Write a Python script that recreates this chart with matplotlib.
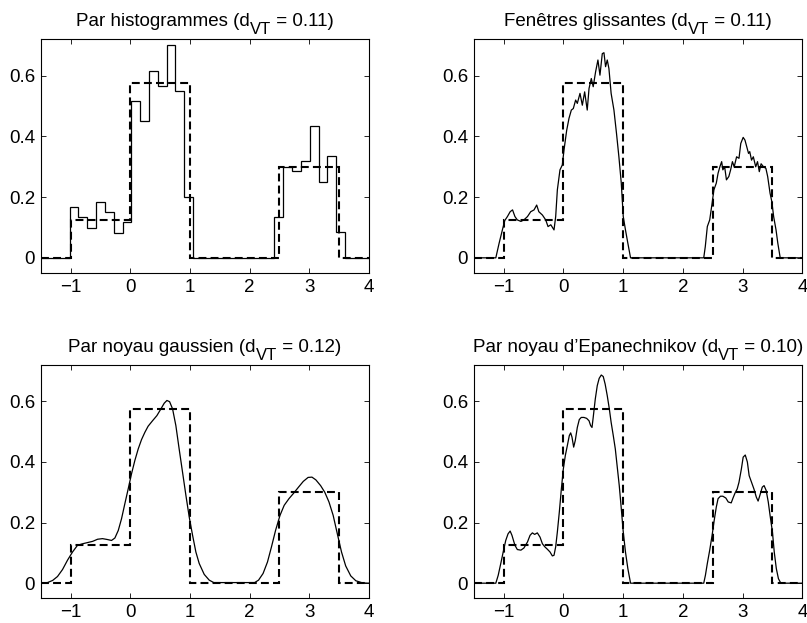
import numpy as np
import matplotlib
matplotlib.use("Agg")
import matplotlib.pyplot as plt

plt.rcParams['font.family'] = ['Liberation Sans', 'DejaVu Sans']

# =============================================================================
# Data

# true density (piecewise constant)
true_edges = [-1.5, -1.0, 0.0, 1.0, 2.5, 3.5, 4.0]
true_vals = [0.0, 0.125, 0.575, 0.0, 0.3, 0.0]

# histogram estimate
hist_edges_a = [-1.017, -0.872, -0.723, -0.573, -0.423, -0.273, -0.129, 0.015,
                0.165, 0.314, 0.464, 0.614, 0.758, 0.908, 1.058]
hist_vals_a = [0.166, 0.134, 0.099, 0.183, 0.150, 0.082, 0.117,
               0.516, 0.450, 0.617, 0.566, 0.702, 0.551, 0.200]
hist_edges_b = [2.411, 2.555, 2.705, 2.855, 3.004, 3.160, 3.304, 3.454, 3.603]
hist_vals_b = [0.135, 0.300, 0.285, 0.320, 0.435, 0.250, 0.335, 0.085]

# sliding windows
win_x = [-1.5, -1.13, -1.075, -1.02, -0.98, -0.936, -0.89, -0.85, -0.81, -0.77,
         -0.71, -0.66, -0.60, -0.546, -0.49, -0.446, -0.41, -0.35, -0.295, -0.256,
         -0.21, -0.156, -0.128, -0.10, -0.056, -0.017, 0.011, 0.056, 0.095, 0.134,
         0.167, 0.206, 0.234, 0.279, 0.318, 0.357, 0.40, 0.43, 0.468, 0.50,
         0.54, 0.579, 0.613, 0.652, 0.68, 0.707, 0.735, 0.763, 0.80, 0.847,
         0.89, 0.93, 0.97, 1.003, 1.04, 1.08, 1.125,
         2.35, 2.376, 2.41, 2.45, 2.49, 2.52, 2.56, 2.59, 2.62, 2.65,
         2.67, 2.70, 2.73, 2.77, 2.80, 2.83, 2.86, 2.90, 2.94, 2.97,
         3.01, 3.04, 3.07, 3.10, 3.12, 3.15, 3.18, 3.22, 3.25, 3.28,
         3.31, 3.35, 3.39, 3.42, 3.46, 3.49, 3.52, 3.56, 3.59, 3.63, 4.0]
win_y = [0.0, 0.0, 0.048, 0.092, 0.123, 0.136, 0.152, 0.158, 0.136, 0.125,
         0.120, 0.125, 0.136, 0.152, 0.158, 0.174, 0.152, 0.141, 0.125, 0.103,
         0.109, 0.092, 0.136, 0.224, 0.290, 0.306, 0.355, 0.420, 0.460, 0.487,
         0.492, 0.520, 0.509, 0.542, 0.503, 0.547, 0.487, 0.558, 0.591, 0.564,
         0.613, 0.652, 0.602, 0.673, 0.676, 0.630, 0.652, 0.624, 0.542, 0.487,
         0.410, 0.333, 0.246, 0.136, 0.092, 0.048, 0.0,
         0.0, 0.037, 0.103, 0.125, 0.180, 0.224, 0.246, 0.279, 0.300, 0.317,
         0.290, 0.300, 0.257, 0.268, 0.290, 0.317, 0.300, 0.333, 0.328, 0.377,
         0.397, 0.388, 0.366, 0.344, 0.350, 0.322, 0.333, 0.300, 0.317, 0.284,
         0.310, 0.300, 0.295, 0.268, 0.213, 0.185, 0.136, 0.092, 0.048, 0.0, 0.0]

# gaussian kernel
gau_x = [-1.497, -1.385, -1.30, -1.218, -1.134, -1.05, -0.966, -0.883, -0.80, -0.715,
         -0.63, -0.547, -0.464, -0.38, -0.313, -0.257, -0.20, -0.145, -0.09, -0.034,
         0.022, 0.078, 0.134, 0.19, 0.246, 0.30, 0.374, 0.447, 0.514, 0.57,
         0.615, 0.66, 0.71, 0.765, 0.82, 0.877, 0.933, 0.989, 1.045, 1.10,
         1.156, 1.24, 1.324, 1.40, 2.085, 2.15, 2.226, 2.30, 2.367, 2.435,
         2.51, 2.58, 2.66, 2.73, 2.82, 2.90, 2.98, 3.045, 3.11, 3.19,
         3.26, 3.33, 3.40, 3.47, 3.54, 3.61, 3.695, 3.78, 3.89, 4.0]
gau_y = [0.0, 0.002, 0.009, 0.022, 0.045, 0.076, 0.103, 0.125, 0.130, 0.134,
         0.138, 0.145, 0.147, 0.144, 0.141, 0.149, 0.174, 0.213, 0.262, 0.311,
         0.361, 0.405, 0.443, 0.474, 0.498, 0.518, 0.536, 0.553, 0.575, 0.594,
         0.603, 0.599, 0.575, 0.520, 0.443, 0.366, 0.290, 0.218, 0.158, 0.103,
         0.065, 0.029, 0.010, 0.002, 0.002, 0.010, 0.032, 0.070, 0.120, 0.174,
         0.224, 0.257, 0.279, 0.295, 0.317, 0.336, 0.349, 0.350, 0.341, 0.322,
         0.300, 0.268, 0.224, 0.163, 0.103, 0.057, 0.024, 0.008, 0.001, 0.0]

# Epanechnikov kernel
epa_x = [-1.5, -1.13, -1.09, -1.047, -1.0, -0.964, -0.925, -0.89, -0.86, -0.81,
         -0.77, -0.71, -0.66, -0.60, -0.557, -0.518, -0.48, -0.435, -0.39, -0.35,
         -0.31, -0.267, -0.223, -0.184, -0.156, -0.128, -0.10, -0.067, -0.033, 0.0,
         0.033, 0.067, 0.10, 0.123, 0.145, 0.173, 0.20, 0.234, 0.267, 0.30,
         0.345, 0.39, 0.43, 0.457, 0.48, 0.50, 0.535, 0.568, 0.60, 0.635,
         0.668, 0.70, 0.735, 0.77, 0.80, 0.836, 0.87, 0.90, 0.936, 0.97,
         1.003, 1.04, 1.08, 1.125,
         2.35, 2.378, 2.41, 2.45, 2.49, 2.525, 2.56, 2.59, 2.63, 2.67,
         2.72, 2.76, 2.81, 2.84, 2.875, 2.91, 2.94, 2.98, 3.01, 3.045,
         3.08, 3.11, 3.15, 3.19, 3.23, 3.26, 3.29, 3.33, 3.36, 3.395,
         3.43, 3.46, 3.50, 3.53, 3.565, 3.60, 3.64, 4.0]
epa_y = [0.0, 0.0, 0.026, 0.065, 0.109, 0.141, 0.163, 0.172, 0.158, 0.125,
         0.111, 0.109, 0.116, 0.136, 0.158, 0.166, 0.161, 0.166, 0.152, 0.130,
         0.120, 0.112, 0.103, 0.090, 0.092, 0.120, 0.169, 0.235, 0.311, 0.377,
         0.421, 0.454, 0.487, 0.496, 0.482, 0.449, 0.471, 0.514, 0.540, 0.547,
         0.547, 0.544, 0.536, 0.520, 0.514, 0.547, 0.608, 0.652, 0.676, 0.687,
         0.682, 0.657, 0.619, 0.575, 0.531, 0.487, 0.443, 0.388, 0.322, 0.246,
         0.169, 0.103, 0.048, 0.0,
         0.0, 0.026, 0.065, 0.109, 0.158, 0.207, 0.251, 0.279, 0.287, 0.287,
         0.281, 0.268, 0.265, 0.281, 0.298, 0.311, 0.333, 0.377, 0.416, 0.423,
         0.400, 0.355, 0.333, 0.311, 0.284, 0.271, 0.290, 0.317, 0.322, 0.306,
         0.268, 0.224, 0.169, 0.103, 0.048, 0.015, 0.0, 0.0]

# titles: (before subscript, subscript, after subscript)
titles = [("Par histogrammes (d", "VT", " = 0.11)"),
          ("Fenêtres glissantes (d", "VT", " = 0.11)"),
          ("Par noyau gaussien (d", "VT", " = 0.12)"),
          ("Par noyau d\u2019Epanechnikov (d", "VT", " = 0.10)")]

# =============================================================================
# Plot

W, H = 807, 623
fig = plt.figure(figsize=(W / 100, H / 100), dpi=100)
boxes = [[0.0504, 0.5618, 0.4068, 0.3750],
         [0.5870, 0.5618, 0.4072, 0.3750],
         [0.0504, 0.0396, 0.4068, 0.3745],
         [0.5870, 0.0396, 0.4072, 0.3745]]
axs = [fig.add_axes(b) for b in boxes]

hist_edges = [-1.5] + hist_edges_a + hist_edges_b + [4.0]
hist_vals = [0.0] + hist_vals_a + [0.0] + hist_vals_b + [0.0]

axs[0].stairs(hist_vals, hist_edges, baseline=None, color='k', lw=0.9)
axs[1].plot(win_x, win_y, color='k', lw=0.9)
axs[2].plot(gau_x, gau_y, color='k', lw=0.9)
axs[3].plot(epa_x, epa_y, color='k', lw=0.9)

renderer = fig.canvas.get_renderer()

def title_with_sub(ax, parts):
    # MATLAB-like title: big subscript, dropped well below the baseline
    pos = ax.get_position()
    cx = 0.5 * (pos.x0 + pos.x1) * W
    base = pos.y1 * H + 13
    specs = [(parts[0], 13.5, 0), (parts[1], 12, -8), (parts[2], 13.5, 0)]
    txts = [fig.text(0, 0, s, fontsize=fs, ha='left', va='baseline') for s, fs, dy in specs]
    widths = [t.get_window_extent(renderer).width for t in txts]
    x = cx - sum(widths) / 2
    for t, w, (s, fs, dy) in zip(txts, widths, specs):
        t.set_position((x / W, (base + dy) / H))
        x += w

for ax, t in zip(axs, titles):
    ax.stairs(true_vals, true_edges, baseline=None, color='k', lw=1.5,
              linestyle=(0, (3.8, 2.0)))
    ax.set_xlim(-1.5, 4)
    ax.set_ylim(-0.05, 0.72)
    ax.set_xticks([-1, 0, 1, 2, 3, 4])
    ax.set_yticks([0, 0.2, 0.4, 0.6], ['0', '0.2', '0.4', '0.6'])
    ax.tick_params(direction='in', top=True, right=True, length=3.5,
                   width=0.6, labelsize=13.5, pad=4)
    for s in ax.spines.values():
        s.set_linewidth(0.8)
    title_with_sub(ax, t)

fig.savefig("out.png", dpi=100)
